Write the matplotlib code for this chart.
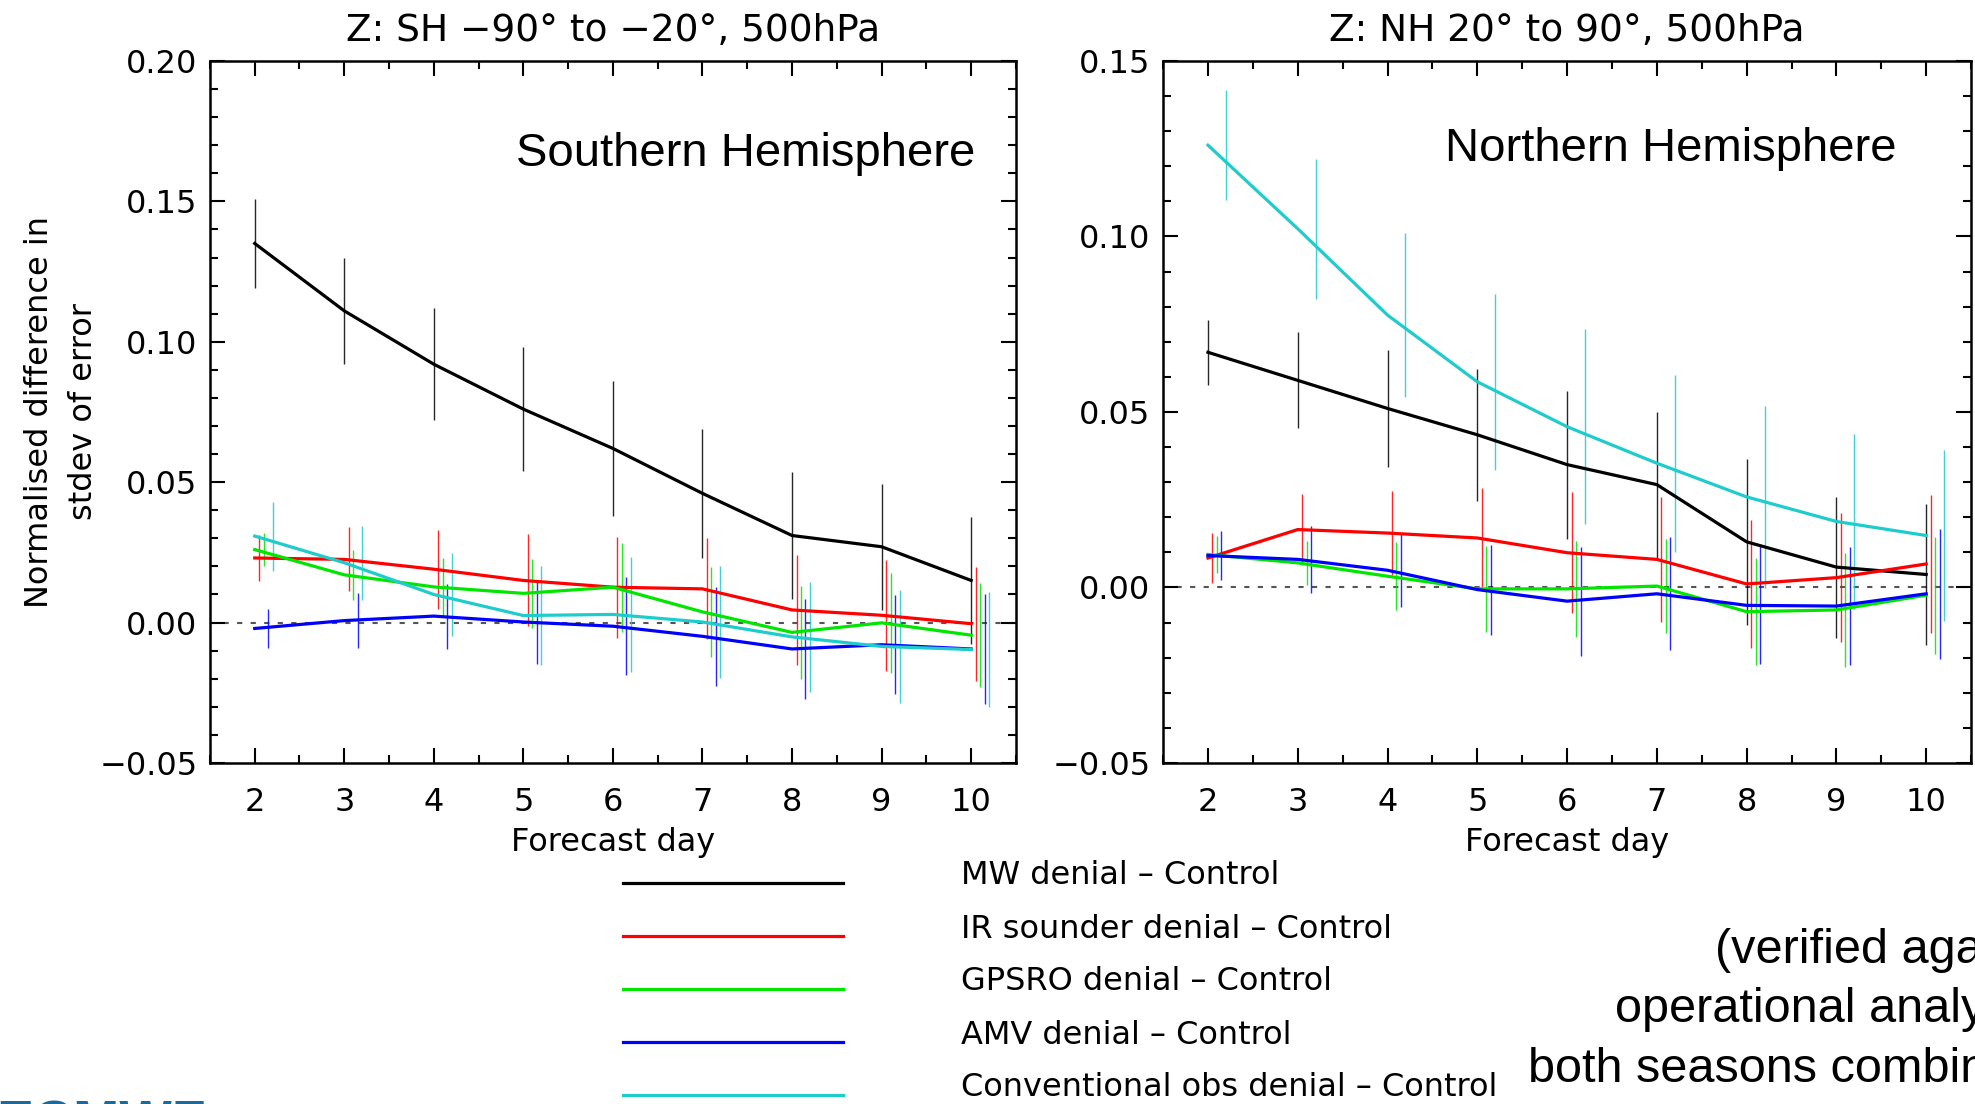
import numpy as np
import matplotlib
matplotlib.use('Agg')
import matplotlib.pyplot as plt
from matplotlib.lines import Line2D
from matplotlib.ticker import MultipleLocator, FuncFormatter

# forecast days
days = np.array([2, 3, 4, 5, 6, 7, 8, 9, 10])

labels = ['MW denial \u2013 Control', 'IR sounder denial \u2013 Control',
          'GPSRO denial \u2013 Control', 'AMV denial \u2013 Control',
          'Conventional obs denial \u2013 Control']
colors = ['#000000', '#ff0000', '#00e600', '#0000ff', '#1fcccc']

# Southern Hemisphere, 500hPa Z
sh_mw = [0.135, 0.111, 0.092, 0.076, 0.062, 0.046, 0.031, 0.027, 0.015]
sh_mw_err = [0.016, 0.019, 0.020, 0.022, 0.024, 0.023, 0.0225, 0.0225, 0.0227]
sh_ir = [0.023, 0.0225, 0.019, 0.015, 0.0126, 0.012, 0.0045, 0.0026, -0.0004]
sh_ir_err = [0.0082, 0.0114, 0.014, 0.0164, 0.018, 0.018, 0.0195, 0.0197, 0.0203]
sh_gps = [0.026, 0.017, 0.0127, 0.0104, 0.0126, 0.0038, -0.0035, -0.0001, -0.0045]
sh_gps_err = [0.006, 0.0088, 0.0104, 0.0123, 0.0158, 0.0159, 0.0167, 0.0178, 0.0186]
sh_amv = [-0.0021, 0.0007, 0.0023, 0.0002, -0.0013, -0.0049, -0.0094, -0.0079, -0.0094]
sh_amv_err = [0.007, 0.0098, 0.0116, 0.0149, 0.0174, 0.0176, 0.0177, 0.0177, 0.0196]
sh_conv = [0.0308, 0.0213, 0.010, 0.0025, 0.0029, 0.0002, -0.0051, -0.0085, -0.0096]
sh_conv_err = [0.0123, 0.0132, 0.0147, 0.0175, 0.0205, 0.0198, 0.0197, 0.020, 0.0204]

# Northern Hemisphere, 500hPa Z
nh_mw = [0.067, 0.059, 0.051, 0.0435, 0.035, 0.0293, 0.013, 0.0058, 0.0037]
nh_mw_err = [0.0092, 0.0137, 0.0167, 0.0188, 0.0211, 0.0208, 0.0236, 0.0201, 0.020]
nh_ir = [0.0084, 0.0165, 0.0155, 0.0141, 0.0099, 0.008, 0.001, 0.0028, 0.0067]
nh_ir_err = [0.0072, 0.010, 0.012, 0.0141, 0.0173, 0.0177, 0.0182, 0.0184, 0.0197]
nh_gps = [0.0094, 0.007, 0.0032, -0.0004, -0.0004, 0.0004, -0.0069, -0.0064, -0.0022]
nh_gps_err = [0.0053, 0.0062, 0.0097, 0.0122, 0.0136, 0.0135, 0.0153, 0.0162, 0.0167]
nh_amv = [0.0091, 0.008, 0.0049, -0.0006, -0.0039, -0.0018, -0.0051, -0.0053, -0.0018]
nh_amv_err = [0.0069, 0.0095, 0.0105, 0.0128, 0.0155, 0.0161, 0.0168, 0.0167, 0.0185]
nh_conv = [0.126, 0.1022, 0.0776, 0.0586, 0.0458, 0.0354, 0.0258, 0.0188, 0.0148]
nh_conv_err = [0.0156, 0.020, 0.0233, 0.025, 0.0278, 0.0252, 0.026, 0.025, 0.0244]

sh_vals = [sh_mw, sh_ir, sh_gps, sh_amv, sh_conv]
sh_errs = [sh_mw_err, sh_ir_err, sh_gps_err, sh_amv_err, sh_conv_err]
nh_vals = [nh_mw, nh_ir, nh_gps, nh_amv, nh_conv]
nh_errs = [nh_mw_err, nh_ir_err, nh_gps_err, nh_amv_err, nh_conv_err]

plt.rcParams['font.family'] = 'DejaVu Sans'
fs = 23

W, H = 1975, 1104
fig = plt.figure(figsize=(W / 100, H / 100), dpi=100)
ax1 = fig.add_axes([0.1063, 0.3089, 0.4081, 0.6359])
ax2 = fig.add_axes([0.5889, 0.3089, 0.4091, 0.6359])

ytick_fmt = FuncFormatter(lambda v, p: ('%.2f' % v).replace('-', '\u2212'))


def draw_panel(ax, vals, errs, title, ylim):
    ax.axhline(0, color='#555555', lw=1.5, ls=(0, (2.5, 4)), zorder=1)
    for i, (v, e) in enumerate(zip(vals, errs)):
        ax.plot(days, v, color=colors[i], lw=2.3, zorder=3)
        # error bars are shifted a little to the right for each experiment
        ax.errorbar(days + 0.05 * i, v, yerr=e, fmt='none', ecolor=colors[i],
                    elinewidth=1.0, alpha=0.85, zorder=2)
    ax.set_xlim(1.5, 10.5)
    ax.set_ylim(*ylim)
    ax.xaxis.set_minor_locator(MultipleLocator(0.5))
    ax.yaxis.set_major_locator(MultipleLocator(0.05))
    ax.yaxis.set_minor_locator(MultipleLocator(0.01))
    ax.yaxis.set_major_formatter(ytick_fmt)
    ax.set_xticks(days)
    ax.tick_params(which='both', direction='in', top=True, right=True,
                   width=1.5, labelsize=fs)
    ax.tick_params(which='major', length=11)
    ax.tick_params(which='minor', length=6)
    ax.tick_params(axis='x', pad=17)
    ax.tick_params(axis='y', pad=9)
    for s in ax.spines.values():
        s.set_linewidth(1.8)
    ax.set_title(title, fontsize=27, pad=14)
    ax.set_xlabel('Forecast day', fontsize=fs, labelpad=7)


draw_panel(ax1, sh_vals, sh_errs, 'Z: SH \u221290\u00b0 to \u221220\u00b0, 500hPa', (-0.05, 0.20))
draw_panel(ax2, nh_vals, nh_errs, 'Z: NH 20\u00b0 to 90\u00b0, 500hPa', (-0.05, 0.15))

ax1.set_ylabel('Normalised difference in\nstdev of error', fontsize=fs, linespacing=1.55)
ax1.yaxis.set_label_coords(-0.1377, 0.5)

ax1.text(0.95, 0.867, 'Southern Hemisphere', transform=ax1.transAxes, fontsize=34,
         family='Liberation Sans', ha='right', va='center')
ax2.text(0.908, 0.874, 'Northern Hemisphere', transform=ax2.transAxes, fontsize=34,
         family='Liberation Sans', ha='right', va='center')

# legend below the panels: sample line, then label a bit higher
for i, lab in enumerate(labels):
    yl = 1 - (883 + 53 * i) / H
    fig.add_artist(Line2D([623 / W, 843 / W], [yl, yl], color=colors[i], lw=2.3))
    fig.text(961 / W, yl + 7 / H, lab, fontsize=fs, ha='left', va='center')

fig.text(1.042, 0.0852, '(verified against\noperational analysis,\nboth seasons combined)',
         fontsize=35, family='Liberation Sans', ha='right', va='center',
         multialignment='right', linespacing=1.41)

fig.text(-0.002, 0.0045, 'ECMWF', fontsize=40, family='Liberation Sans',
         fontweight='bold', color='#1a6a9e', ha='left', va='top')

plt.savefig('out.png', dpi=100)
